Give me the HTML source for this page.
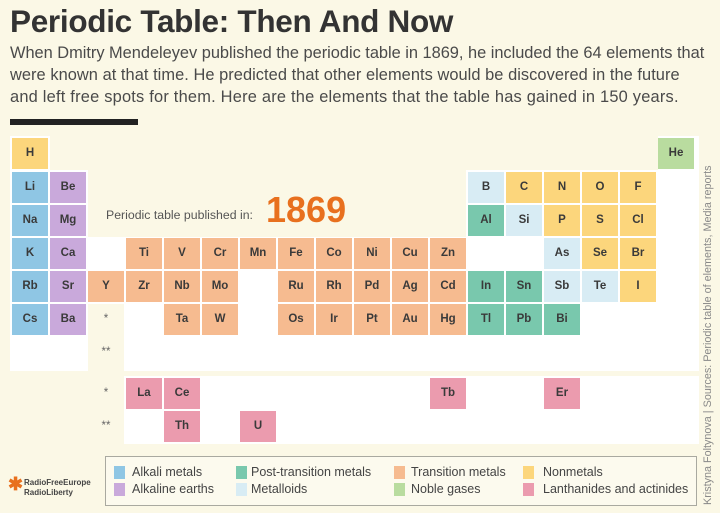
<!DOCTYPE html>
<html><head><meta charset="utf-8"><style>
body{margin:0;width:720px;height:513px;background:#fbf8e6;font-family:"Liberation Sans",sans-serif;position:relative;overflow:hidden}
.a{position:absolute}
.w{position:absolute;background:#fff}
.c{position:absolute;width:36px;height:31px;line-height:31px;text-align:center;font-size:11.5px;font-weight:bold;color:#3a3a3a}
.al{background:#8fc6e4}.ae{background:#c9a9db}.tr{background:#f6bb90}.pt{background:#79c8ad}.md{background:#d8ecf4}.nm{background:#fcd67c}.ng{background:#b9dc9f}.ln{background:#eb9bae}
.lg{position:absolute;font-size:12.5px;color:#444}
.sw{position:absolute;width:11px;height:13px}
.p{position:absolute;left:10px;white-space:nowrap;font-size:16.4px;color:#4a4a4a}
</style></head><body>
<div class="a" style="left:10px;top:3px;font-size:31.5px;font-weight:bold;color:#333;letter-spacing:-0.3px">Periodic Table: Then And Now</div>
<div class="p" style="top:44px;letter-spacing:-0.02px">When Dmitry Mendeleyev published the periodic table in 1869, he included the 64 elements that</div>
<div class="p" style="top:66px;letter-spacing:0.05px">were known at that time. He predicted that other elements would be discovered in the future</div>
<div class="p" style="top:88px;letter-spacing:0.22px">and left free spots for them. Here are the elements that the table has gained in 150 years.</div>
<div class="a" style="left:10px;top:119px;width:128px;height:6px;background:#222"></div>

<div class="w" style="left:10px;top:136px;width:40px;height:35px"></div>
<div class="w" style="left:658px;top:136px;width:41px;height:35px"></div>
<div class="w" style="left:10px;top:170px;width:78px;height:201px"></div>
<div class="w" style="left:466px;top:170px;width:233px;height:68px"></div>
<div class="w" style="left:88px;top:237px;width:611px;height:67px"></div>
<div class="w" style="left:124px;top:303px;width:575px;height:68px"></div>
<div class="w" style="left:124px;top:376px;width:575px;height:68px"></div>

<div class="a" style="left:106px;top:208px;font-size:12.3px;color:#555">Periodic table published in:</div>
<div class="a" style="left:266px;top:189px;font-size:36px;font-weight:bold;color:#e8701e">1869</div>

<div class="c nm" style="left:12px;top:138px">H</div>
<div class="c ng" style="left:658px;top:138px">He</div>

<div class="c al" style="left:12px;top:172px">Li</div>
<div class="c ae" style="left:50px;top:172px">Be</div>
<div class="c md" style="left:468px;top:172px">B</div>
<div class="c nm" style="left:506px;top:172px">C</div>
<div class="c nm" style="left:544px;top:172px">N</div>
<div class="c nm" style="left:582px;top:172px">O</div>
<div class="c nm" style="left:620px;top:172px">F</div>

<div class="c al" style="left:12px;top:205px">Na</div>
<div class="c ae" style="left:50px;top:205px">Mg</div>
<div class="c pt" style="left:468px;top:205px">Al</div>
<div class="c md" style="left:506px;top:205px">Si</div>
<div class="c nm" style="left:544px;top:205px">P</div>
<div class="c nm" style="left:582px;top:205px">S</div>
<div class="c nm" style="left:620px;top:205px">Cl</div>

<div class="c al" style="left:12px;top:238px">K</div>
<div class="c ae" style="left:50px;top:238px">Ca</div>
<div class="c tr" style="left:126px;top:238px">Ti</div>
<div class="c tr" style="left:164px;top:238px">V</div>
<div class="c tr" style="left:202px;top:238px">Cr</div>
<div class="c tr" style="left:240px;top:238px">Mn</div>
<div class="c tr" style="left:278px;top:238px">Fe</div>
<div class="c tr" style="left:316px;top:238px">Co</div>
<div class="c tr" style="left:354px;top:238px">Ni</div>
<div class="c tr" style="left:392px;top:238px">Cu</div>
<div class="c tr" style="left:430px;top:238px">Zn</div>
<div class="c md" style="left:544px;top:238px">As</div>
<div class="c nm" style="left:582px;top:238px">Se</div>
<div class="c nm" style="left:620px;top:238px">Br</div>

<div class="c al" style="left:12px;top:271px">Rb</div>
<div class="c ae" style="left:50px;top:271px">Sr</div>
<div class="c tr" style="left:88px;top:271px">Y</div>
<div class="c tr" style="left:126px;top:271px">Zr</div>
<div class="c tr" style="left:164px;top:271px">Nb</div>
<div class="c tr" style="left:202px;top:271px">Mo</div>
<div class="c tr" style="left:278px;top:271px">Ru</div>
<div class="c tr" style="left:316px;top:271px">Rh</div>
<div class="c tr" style="left:354px;top:271px">Pd</div>
<div class="c tr" style="left:392px;top:271px">Ag</div>
<div class="c tr" style="left:430px;top:271px">Cd</div>
<div class="c pt" style="left:468px;top:271px">In</div>
<div class="c pt" style="left:506px;top:271px">Sn</div>
<div class="c md" style="left:544px;top:271px">Sb</div>
<div class="c md" style="left:582px;top:271px">Te</div>
<div class="c nm" style="left:620px;top:271px">I</div>

<div class="c al" style="left:12px;top:304px">Cs</div>
<div class="c ae" style="left:50px;top:304px">Ba</div>
<div class="c" style="left:88px;top:304px;font-weight:normal;color:#666">*</div>
<div class="c tr" style="left:164px;top:304px">Ta</div>
<div class="c tr" style="left:202px;top:304px">W</div>
<div class="c tr" style="left:278px;top:304px">Os</div>
<div class="c tr" style="left:316px;top:304px">Ir</div>
<div class="c tr" style="left:354px;top:304px">Pt</div>
<div class="c tr" style="left:392px;top:304px">Au</div>
<div class="c tr" style="left:430px;top:304px">Hg</div>
<div class="c pt" style="left:468px;top:304px">Tl</div>
<div class="c pt" style="left:506px;top:304px">Pb</div>
<div class="c pt" style="left:544px;top:304px">Bi</div>

<div class="c" style="left:88px;top:337px;font-weight:normal;color:#666">**</div>

<div class="c" style="left:88px;top:378px;font-weight:normal;color:#666">*</div>
<div class="c ln" style="left:126px;top:378px">La</div>
<div class="c ln" style="left:164px;top:378px">Ce</div>
<div class="c ln" style="left:430px;top:378px">Tb</div>
<div class="c ln" style="left:544px;top:378px">Er</div>
<div class="c" style="left:88px;top:411px;font-weight:normal;color:#666">**</div>
<div class="c ln" style="left:164px;top:411px">Th</div>
<div class="c ln" style="left:240px;top:411px">U</div>

<div class="a" style="left:105px;top:456px;width:590px;height:48px;border:1px solid #a9a9a0;background:#fcfaee"></div>
<div class="sw al" style="left:114px;top:466px"></div><div class="lg" style="left:132px;top:465px">Alkali metals</div>
<div class="sw ae" style="left:114px;top:483px"></div><div class="lg" style="left:132px;top:482px">Alkaline earths</div>
<div class="sw pt" style="left:236px;top:466px"></div><div class="lg" style="left:251px;top:465px">Post-transition metals</div>
<div class="sw md" style="left:236px;top:483px"></div><div class="lg" style="left:251px;top:482px">Metalloids</div>
<div class="sw tr" style="left:394px;top:466px"></div><div class="lg" style="left:411px;top:465px">Transition metals</div>
<div class="sw ng" style="left:394px;top:483px"></div><div class="lg" style="left:411px;top:482px">Noble gases</div>
<div class="sw nm" style="left:523px;top:466px"></div><div class="lg" style="left:543px;top:465px">Nonmetals</div>
<div class="sw ln" style="left:523px;top:483px"></div><div class="lg" style="left:543px;top:482px">Lanthanides and actinides</div>

<div class="a" style="left:8px;top:474px;font-size:18px;color:#e8701e;font-weight:bold">&#10033;</div>
<div class="a" style="left:24px;top:478px;font-size:8px;font-weight:bold;color:#444;line-height:10px">RadioFreeEurope<br>RadioLiberty</div>

<div class="a" style="left:702px;top:505px;transform-origin:0 0;transform:rotate(-90deg);white-space:nowrap;font-size:10.8px;color:#888">Kristyna Foltynova | Sources: Periodic table of elements, Media reports</div>
</body></html>
